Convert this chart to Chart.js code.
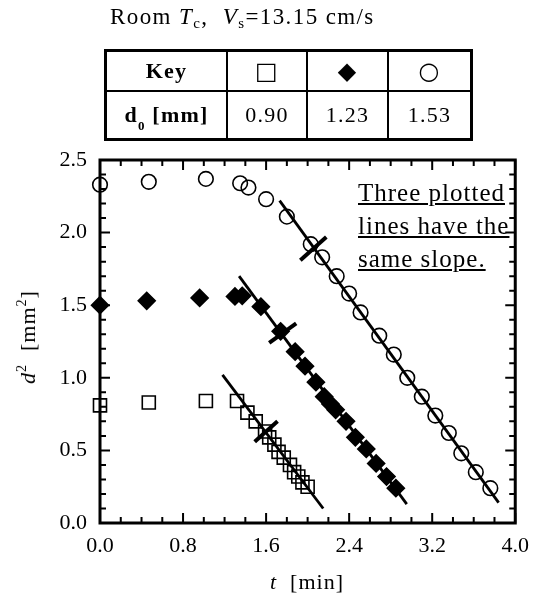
<!DOCTYPE html>
<html lang="en">
<head>
    <meta charset="UTF-8">
    <title>d2 vs t</title>
    <script src="https://cdn.jsdelivr.net/npm/chart.js"></script>
    <style>
        body { margin: 0; background: #fff; }
        #wrap { position: relative; width: 539px; height: 594px; font-family: 'Liberation Serif', serif; color: #000; }
        #chart { position: absolute; left: 0; top: 0; }
        .txt { position: absolute; white-space: nowrap; letter-spacing: 1px; }
        #title { left: 110px; top: 3px; font-size: 23px; line-height: 28px; letter-spacing: 1.4px; }
        #title sub { font-size: 15px; vertical-align: -4px; line-height: 0; }
        #key { position: absolute; left: 104px; top: 49px; border-collapse: collapse; border: 3px solid #000; font-size: 22px; }
        #key td { border: 2px solid #000; text-align: center; padding: 0; letter-spacing: 1.2px; }
        #key tr.r1 td { height: 38px; }
        #key tr.r2 td { height: 46px; }
        #key .sym { font-family: 'DejaVu Sans', sans-serif; font-size: 24px; }
        #key b sub { font-size: 13px; vertical-align: -8px; line-height: 0; }
        #note { left: 358px; top: 176px; font-size: 25px; line-height: 33px; text-decoration: underline; letter-spacing: 1px; }
        #ytitle { left: 28px; top: 337px; font-size: 22px; transform: translate(-50%, -50%) rotate(-90deg); }
        #xtitle { left: 307px; top: 582px; font-size: 22px; transform: translate(-50%, -50%); }
        sup { font-size: 14px; vertical-align: 9px; line-height: 0; }
    </style>
</head>
<body>
<div id="wrap">
    <canvas id="chart" width="539" height="594"></canvas>
    <div id="title" class="txt">Room <i>T</i><sub>c</sub>,&nbsp; <i>V</i><sub>s</sub>=13.15 cm/s</div>
    <table id="key">
        <tr class="r1">
            <td style="width:119px"><b>Key</b></td>
            <td style="width:78px" class="sym">□</td>
            <td style="width:79px" class="sym">◆</td>
            <td style="width:81px" class="sym">○</td>
        </tr>
        <tr class="r2">
            <td><b>d<sub>0</sub> [mm]</b></td>
            <td>0.90</td>
            <td>1.23</td>
            <td>1.53</td>
        </tr>
    </table>
    <div id="note" class="txt">Three plotted<br>lines have the<br>same slope.</div>
    <div id="ytitle" class="txt"><i>d</i><sup>2</sup>&nbsp; [mm<sup>2</sup>]</div>
    <div id="xtitle" class="txt"><i>t</i>&nbsp; [min]</div>
</div>
<script>
// d0 = 0.90 mm (open squares)
const squareT  = [0, 0.47, 1.02, 1.32, 1.42, 1.50, 1.59, 1.63, 1.68, 1.72, 1.77, 1.83, 1.87, 1.91, 1.95, 2.00];
const squareD2 = [0.81, 0.83, 0.84, 0.84, 0.76, 0.70, 0.63, 0.59, 0.54, 0.49, 0.45, 0.40, 0.35, 0.32, 0.28, 0.25];
// d0 = 1.23 mm (filled diamonds)
const diamondT  = [0, 0.45, 0.96, 1.30, 1.37, 1.55, 1.74, 1.88, 1.975, 2.08, 2.16, 2.22, 2.27, 2.37, 2.46, 2.565, 2.66, 2.76, 2.85];
const diamondD2 = [1.50, 1.53, 1.55, 1.56, 1.565, 1.49, 1.32, 1.18, 1.08, 0.97, 0.87, 0.82, 0.78, 0.70, 0.59, 0.51, 0.41, 0.32, 0.24];
// d0 = 1.53 mm (open circles)
const circleT  = [0, 0.47, 1.02, 1.35, 1.43, 1.60, 1.80, 2.03, 2.14, 2.28, 2.40, 2.51, 2.69, 2.83, 2.96, 3.10, 3.23, 3.36, 3.48, 3.62, 3.76];
const circleD2 = [2.33, 2.35, 2.37, 2.34, 2.31, 2.23, 2.11, 1.92, 1.83, 1.70, 1.58, 1.45, 1.29, 1.16, 1.00, 0.87, 0.74, 0.62, 0.48, 0.35, 0.24];

// fitted lines (end points) and the short crossing marks
const squareLineT  = [1.18, 2.15];
const squareLineD2 = [1.02, 0.10];
const diamondLineT  = [1.34, 2.955];
const diamondLineD2 = [1.70, 0.13];
const circleLineT  = [1.73, 3.84];
const circleLineD2 = [2.22, 0.14];
const squareMarkT  = [1.49, 1.71];
const squareMarkD2 = [0.56, 0.70];
const diamondMarkT  = [1.63, 1.89];
const diamondMarkD2 = [1.24, 1.375];
const circleMarkT  = [1.93, 2.18];
const circleMarkD2 = [1.81, 1.97];

const xTicks = [0, 0.8, 1.6, 2.4, 3.2, 4.0];
const yTicks = [0, 0.5, 1.0, 1.5, 2.0, 2.5];

function pts(xs, ys) {
    return xs.map((x, i) => ({ x: x, y: ys[i] }));
}

function marker(xs, ys, style, radius, fill) {
    return {
        data: pts(xs, ys),
        pointStyle: style,
        pointRadius: radius,
        pointBackgroundColor: fill,
        pointBorderColor: '#000',
        pointBorderWidth: 1.6,
        showLine: false,
        clip: false
    };
}

function segment(xs, ys, width) {
    return {
        data: pts(xs, ys),
        showLine: true,
        borderColor: '#000',
        borderWidth: width,
        pointRadius: 0,
        clip: false
    };
}

// frame with inward ticks on all four sides
const framePlugin = {
    id: 'frame',
    beforeDatasetsDraw(chart) {
        const ctx = chart.ctx;
        const a = chart.chartArea;
        const xs = chart.scales.x, ys = chart.scales.y;
        ctx.save();
        ctx.strokeStyle = '#000';
        ctx.lineWidth = 2;
        for (let i = 0; i <= 20; i++) {
            const px = xs.getPixelForValue(i * 0.2);
            const len = i % 4 === 0 ? 10 : 6;
            ctx.beginPath();
            ctx.moveTo(px, a.bottom); ctx.lineTo(px, a.bottom - len);
            ctx.moveTo(px, a.top); ctx.lineTo(px, a.top + len);
            ctx.stroke();
        }
        for (let i = 0; i <= 25; i++) {
            const py = ys.getPixelForValue(i * 0.1);
            const len = i % 5 === 0 ? 10 : 6;
            ctx.beginPath();
            ctx.moveTo(a.left, py); ctx.lineTo(a.left + len, py);
            ctx.moveTo(a.right, py); ctx.lineTo(a.right - len, py);
            ctx.stroke();
        }
        ctx.lineWidth = 3;
        ctx.strokeRect(a.left, a.top, a.right - a.left, a.bottom - a.top);
        ctx.restore();
    }
};

Chart.defaults.font.family = "'Liberation Serif', serif";
Chart.defaults.font.size = 22;
Chart.defaults.color = '#000';

new Chart(document.getElementById('chart'), {
    type: 'scatter',
    data: {
        datasets: [
            segment(squareLineT, squareLineD2, 2.8),
            segment(diamondLineT, diamondLineD2, 2.8),
            segment(circleLineT, circleLineD2, 2.8),
            segment(squareMarkT, squareMarkD2, 4),
            segment(diamondMarkT, diamondMarkD2, 4),
            segment(circleMarkT, circleMarkD2, 4),
            marker(squareT, squareD2, 'rect', 9.2, 'rgba(0,0,0,0)'),
            marker(diamondT, diamondD2, 'rectRot', 8.5, '#000'),
            marker(circleT, circleD2, 'circle', 7.3, 'rgba(0,0,0,0)')
        ]
    },
    options: {
        responsive: false,
        animation: false,
        layout: { padding: { left: 0, top: 160, right: 14, bottom: 0 } },
        plugins: { legend: { display: false }, tooltip: { enabled: false } },
        scales: {
            x: {
                type: 'linear',
                min: 0,
                max: 4,
                afterBuildTicks: s => { s.ticks = xTicks.map(v => ({ value: v })); },
                afterFit: s => { s.height = 71; },
                grid: { display: false, drawTicks: false },
                border: { display: false },
                ticks: { padding: 10, maxRotation: 0, autoSkip: false, callback: v => v.toFixed(1) }
            },
            y: {
                type: 'linear',
                min: 0,
                max: 2.5,
                afterBuildTicks: s => { s.ticks = yTicks.map(v => ({ value: v })); },
                afterFit: s => { s.width = 100; },
                grid: { display: false, drawTicks: false },
                border: { display: false },
                ticks: { padding: 13, autoSkip: false, callback: v => v.toFixed(1) }
            }
        }
    },
    plugins: [framePlugin]
});
</script>
</body>
</html>
